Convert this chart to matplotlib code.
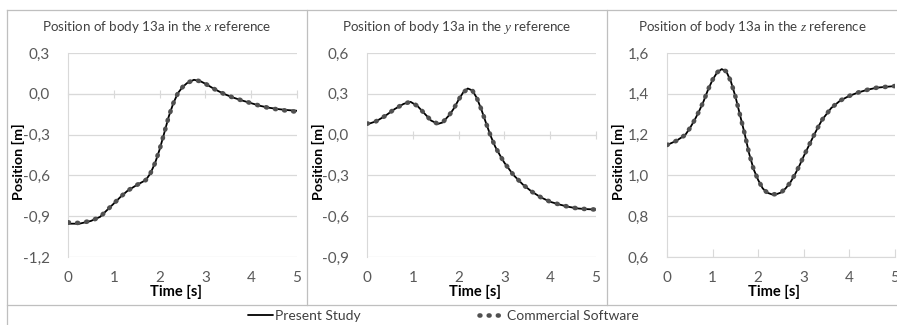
import matplotlib
matplotlib.use("Agg")
import matplotlib.pyplot as plt
from matplotlib.lines import Line2D
from matplotlib.ticker import FuncFormatter, MultipleLocator

plt.rcParams['font.family'] = ['Lato', 'DejaVu Sans']
plt.rcParams['mathtext.fontset'] = 'custom'
plt.rcParams['mathtext.it'] = 'Liberation Serif:italic'
plt.rcParams['mathtext.rm'] = 'Liberation Serif'

# time samples
t_x = [0, 0.25, 0.5, 0.7, 0.85, 1.0, 1.15, 1.3, 1.5, 1.7, 1.8, 1.9, 2.0, 2.1, 2.2, 2.3,
       2.4, 2.5, 2.6, 2.75, 2.9, 3.0, 3.2, 3.4, 3.6, 3.8, 4.0, 4.2, 4.4, 4.6, 4.8, 5.0]
pos_x = [-0.955, -0.955, -0.935, -0.905, -0.856, -0.807, -0.757, -0.713, -0.671, -0.634,
         -0.585, -0.51, -0.41, -0.29, -0.167, -0.069, 0.005, 0.049, 0.079, 0.103, 0.091,
         0.074, 0.034, 0.0, -0.027, -0.049, -0.069, -0.089, -0.103, -0.113, -0.12, -0.125]
com_x = [-0.945, -0.95, -0.935, -0.905, -0.856, -0.807, -0.757, -0.713, -0.671, -0.634,
         -0.585, -0.51, -0.41, -0.29, -0.167, -0.069, 0.005, 0.049, 0.079, 0.103, 0.091,
         0.074, 0.034, 0.0, -0.027, -0.049, -0.069, -0.089, -0.105, -0.116, -0.125, -0.132]

t_y = [0, 0.2, 0.4, 0.6, 0.8, 0.95, 1.1, 1.25, 1.4, 1.55, 1.65, 1.8, 1.9, 2.0, 2.1, 2.2,
       2.3, 2.4, 2.5, 2.6, 2.7, 2.8, 2.9, 3.0, 3.2, 3.4, 3.6, 3.8, 4.0, 4.2, 4.4, 4.6,
       4.8, 5.0]
pos_y = [0.075, 0.098, 0.138, 0.187, 0.226, 0.241, 0.211, 0.157, 0.103, 0.079, 0.089,
         0.145, 0.194, 0.256, 0.31, 0.339, 0.325, 0.268, 0.182, 0.084, -0.01, -0.089,
         -0.15, -0.207, -0.298, -0.366, -0.42, -0.462, -0.494, -0.514, -0.531, -0.543,
         -0.548, -0.551]
com_y = [0.08, 0.098, 0.138, 0.187, 0.226, 0.241, 0.211, 0.157, 0.103, 0.079, 0.089,
         0.145, 0.194, 0.256, 0.31, 0.335, 0.325, 0.268, 0.182, 0.084, -0.01, -0.089,
         -0.15, -0.207, -0.298, -0.366, -0.42, -0.462, -0.494, -0.514, -0.531, -0.543,
         -0.548, -0.551]

t_z = [0, 0.2, 0.4, 0.5, 0.6, 0.7, 0.8, 0.9, 1.0, 1.1, 1.2, 1.3, 1.4, 1.5, 1.6, 1.7,
       1.8, 1.9, 2.0, 2.1, 2.2, 2.3, 2.4, 2.5, 2.6, 2.7, 2.8, 2.9, 3.0, 3.1, 3.2, 3.3,
       3.4, 3.6, 3.8, 4.0, 4.2, 4.4, 4.6, 4.8, 5.0]
pos_z = [1.149, 1.169, 1.198, 1.231, 1.269, 1.313, 1.362, 1.42, 1.469, 1.505, 1.521,
         1.51, 1.461, 1.387, 1.297, 1.207, 1.108, 1.03, 0.977, 0.936, 0.915, 0.907,
         0.908, 0.916, 0.936, 0.964, 1.002, 1.046, 1.095, 1.141, 1.187, 1.231, 1.272,
         1.33, 1.367, 1.39, 1.407, 1.42, 1.43, 1.434, 1.438]
com_z = pos_z

panels = [
    (t_x, pos_x, com_x, r'Position of body 13a in the $x$ reference', (-1.2, 0.3), 0.3, 0.0),
    (t_y, pos_y, com_y, r'Position of body 13a in the $y$ reference', (-0.9, 0.6), 0.3, 0.0),
    (t_z, pos_z, com_z, r'Position of body 13a in the $z$ reference', (0.6, 1.6), 0.2, 0.6),
]

W, H = 897, 325
fig = plt.figure(figsize=(W / 100, H / 100), dpi=100)

# pixel layout of each panel: frame left, frame right, axes left, axes right
layout = [(7, 307, 68, 297), (307, 607, 367, 596), (607, 897, 667, 895)]
ax_top, ax_bot = 53, 257
grey = '#595959'
light = '#d9d9d9'
frame = '#bfbfbf'

comma = FuncFormatter(lambda v, p: ('%.1f' % v).replace('.', ','))

handles = None
for (t, p, c, title, ylim, step, cross), (fl, fr, al, ar) in zip(panels, layout):
    ax = fig.add_axes([al / W, 1 - ax_bot / H, (ar - al) / W, (ax_bot - ax_top) / H])
    l1, = ax.plot(t, p, color='black', lw=1.3, solid_capstyle='round', zorder=3)
    l2, = ax.plot(t, c, color='#505050', lw=3.3, linestyle=(0, (0.2, 1.8)),
                  dash_capstyle='round', zorder=4)
    handles = [l1, l2]
    ax.set_xlim(0, 5)
    ax.set_ylim(*ylim)
    ax.yaxis.set_major_locator(MultipleLocator(step))
    ax.yaxis.set_major_formatter(comma)
    ax.grid(axis='y', color=light, lw=0.9)
    ax.set_axisbelow(True)
    for s in ['top', 'right']:
        ax.spines[s].set_visible(False)
    ax.spines['left'].set_color(light)
    ax.spines['bottom'].set_color(light)
    ax.spines['bottom'].set_position(('data', cross))
    ax.tick_params(axis='y', length=0, pad=13, labelsize=11, labelcolor=grey)
    ax.tick_params(axis='x', direction='inout' if cross == 0 else 'in', length=6,
                   color=light, labelbottom=False)
    ax.xaxis.set_major_locator(MultipleLocator(1))

    sec = ax.secondary_xaxis('bottom')
    sec.spines['bottom'].set_visible(False)
    sec.xaxis.set_major_locator(MultipleLocator(1))
    sec.tick_params(length=0, pad=10, labelsize=11, labelcolor=grey)

    fig.text((fl + fr) / 2 / W, 1 - 27 / H, title, ha='center', va='center',
             fontsize=9.6, color='#404040')
    fig.text((fl + 11) / W, 1 - 162 / H, 'Position [m]', rotation=90, ha='center',
             va='center', fontsize=10.3, fontweight='bold', color='black')
    fig.text(((al + ar) / 2 - 7) / W, 1 - 292 / H, 'Time [s]', ha='center', va='center',
             fontsize=10.5, fontweight='bold', color='black')

# chart area borders
for x in [7, 307, 607]:
    fig.add_artist(Line2D([x / W, x / W], [1 - 10 / H, 1 - (305 if x > 7 else 325) / H],
                          color=frame, lw=0.9))
fig.add_artist(Line2D([7 / W, 1], [1 - 10 / H, 1 - 10 / H], color=frame, lw=0.9))
fig.add_artist(Line2D([7 / W, 1], [1 - 305 / H, 1 - 305 / H], color=frame, lw=0.9))

fig.legend(handles, ['Present Study', 'Commercial Software'], loc='center',
           bbox_to_anchor=(443 / W, 1 - 316 / H), ncol=2, frameon=False,
           fontsize=10, handlelength=1.8, handletextpad=0.2, columnspacing=8.5,
           labelcolor='#404040')

fig.savefig('out.png', dpi=100)
